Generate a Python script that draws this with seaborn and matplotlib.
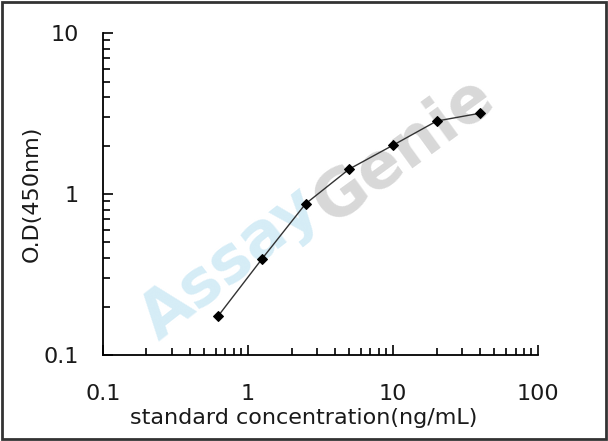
import numpy as np
import pandas as pd
import seaborn as sns
import matplotlib.pyplot as plt
from matplotlib.patches import Rectangle
from matplotlib.ticker import LogLocator, NullFormatter

# standard curve readings
conc = [0.625, 1.25, 2.5, 5, 10, 20, 40]  # ng/mL
od = [0.175, 0.395, 0.87, 1.43, 2.01, 2.84, 3.18]  # O.D at 450nm
xticks = [0.1, 1, 10, 100]
yticks = [0.1, 1, 10]
df = pd.DataFrame({'conc': conc, 'od': od})

sns.set_style('white')
plt.rcParams['font.family'] = ['DejaVu Sans']

fig = plt.figure(figsize=(6.08, 4.41), dpi=100)
ax = fig.add_axes([0.169, 0.195, 0.716, 0.730])

# watermark behind the curve
fig.text(0.38, 0.40, 'Assay', fontsize=46, fontweight='bold', color='#c4e5f3',
         alpha=0.7, rotation=38, ha='center', va='center', zorder=-1)
fig.text(0.665, 0.66, 'Genie', fontsize=46, fontweight='bold', color='#c8c8c8',
         alpha=0.7, rotation=36, ha='center', va='center', zorder=-1)
ax.patch.set_alpha(0)

sns.lineplot(data=df, x='conc', y='od', ax=ax, color='#333333', linewidth=1.0,
             marker='D', markersize=5, markerfacecolor='black', markeredgecolor='black')

ax.set_xscale('log')
ax.set_yscale('log')
ax.set_xlim(0.1, 100)
ax.set_ylim(0.1, 10)
ax.set_xticks(xticks)
ax.set_xticklabels(['0.1', '1', '10', '100'])
ax.set_yticks(yticks)
ax.set_yticklabels(['0.1', '1', '10'])
ax.xaxis.set_minor_locator(LogLocator(base=10, subs=np.arange(2, 10)))
ax.yaxis.set_minor_locator(LogLocator(base=10, subs=np.arange(2, 10)))
ax.xaxis.set_minor_formatter(NullFormatter())
ax.yaxis.set_minor_formatter(NullFormatter())

ax.tick_params(axis='both', which='both', direction='in', color='black', width=1.2,
               bottom=True, left=True, top=False, right=False, labelcolor='#1a1a1a')
ax.tick_params(axis='both', which='major', length=7, labelsize=16)
ax.tick_params(axis='both', which='minor', length=5)
ax.tick_params(axis='x', which='major', pad=21)
ax.tick_params(axis='y', which='major', pad=17)

for side in ['top', 'right']:
    ax.spines[side].set_visible(False)
for side in ['left', 'bottom']:
    ax.spines[side].set_color('black')
    ax.spines[side].set_linewidth(1.3)

ax.set_xlabel('standard concentration(ng/mL)', fontsize=16, color='#1a1a1a')
ax.set_ylabel('O.D(450nm)', fontsize=16, color='#1a1a1a')
ax.xaxis.set_label_coords(0.462, -0.165)
ax.yaxis.set_label_coords(-0.14, 0.5)

fig.patches.append(Rectangle((0.004, 0.005), 0.992, 0.99, transform=fig.transFigure,
                             fill=False, edgecolor='#333333', linewidth=2))

fig.savefig('out.png', dpi=100)
